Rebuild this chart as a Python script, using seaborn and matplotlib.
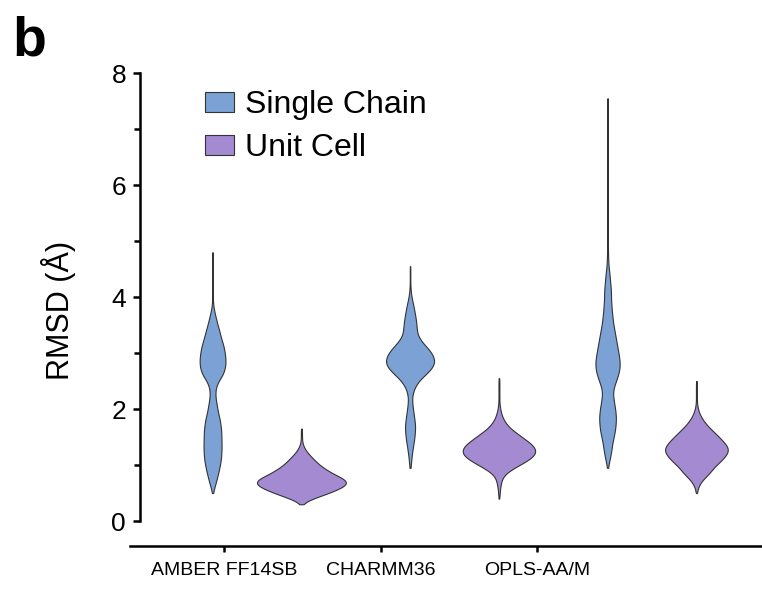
import numpy as np
import pandas as pd
import matplotlib.pyplot as plt
import seaborn as sns

# force fields and systems
force_fields = ["AMBER FF14SB", "CHARMM36", "OPLS-AA/M"]
systems = ["Single Chain", "Unit Cell"]

# RMSD histograms (frames per bin)
# single chain bins every 0.1 A, unit cell bins every 0.05 A
amber_single_start = 0.5
amber_single_counts = [2, 8, 15, 21, 27, 32, 36, 38, 39, 39,
                       38, 38, 35, 32, 26, 21, 17, 13, 12, 15,
                       26, 42, 52, 56, 56, 53, 49, 42, 35, 29,
                       22, 16, 10, 5, 2, 1, 1, 1, 1, 1,
                       1, 1, 1, 1]
amber_unit_start = 0.3
amber_unit_counts = [1, 4, 20, 34, 48, 60, 72, 80, 85, 76,
                     64, 54, 46, 38, 32, 26, 22, 17, 12, 8,
                     5, 3, 1, 1, 1, 1, 1, 1]
charmm_single_start = 0.95
charmm_single_counts = [2, 4, 6, 9, 12, 16, 18, 20, 19, 16,
                        13, 10, 8, 9, 15, 26, 44, 68, 88, 96,
                        90, 76, 56, 38, 28, 26, 24, 21, 17, 13,
                        8, 4, 2, 1, 1, 1, 1]
charmm_unit_start = 0.4
charmm_unit_counts = [1, 1, 2, 2, 3, 4, 5, 7, 9, 15,
                      24, 34, 46, 58, 68, 77, 83, 84, 82, 77,
                      70, 60, 52, 44, 34, 26, 20, 15, 11, 8,
                      6, 4, 3, 2, 1, 1, 1, 1, 1, 1,
                      1, 1, 1, 1]
opls_single_start = 0.95
opls_single_counts = [2, 6, 11, 15, 18, 22, 27, 31, 33, 34,
                      32, 29, 25, 22, 23, 30, 38, 45, 49, 49,
                      46, 42, 38, 34, 30, 26, 22, 20, 17, 16,
                      14, 14, 13, 11, 9, 7, 4, 3, 2, 2,
                      1, 1, 1, 1, 1, 1, 1, 1, 1, 1,
                      1, 1, 1, 1, 1, 1, 1, 1, 1, 1,
                      1, 1, 1, 1, 1, 1, 1]
opls_unit_start = 0.5
opls_unit_counts = [1, 2, 3, 6, 9, 14, 21, 27, 31, 35,
                    41, 48, 54, 59, 64, 67, 67, 63, 58, 53,
                    47, 41, 35, 29, 23, 18, 14, 10, 7, 5,
                    3, 2, 1, 1, 1, 1, 1, 1, 1, 1,
                    1]

SINGLE_STEP = 0.1
UNIT_STEP = 0.05
KDE_BW = 0.065  # same smoothing width (A) for every violin

colors = {"Single Chain": "#7BA1D5", "Unit Cell": "#A38AD1"}


def expand(ff, system, start, step, counts):
    rmsd = np.round(start + step * np.arange(len(counts)), 3)
    return pd.DataFrame({"force_field": ff, "system": system,
                         "rmsd": np.repeat(rmsd, counts)})


def fixed_bw(kde):
    # gaussian_kde multiplies the factor by the data std
    return KDE_BW / kde.dataset.std(ddof=1)


df = pd.concat([
    expand("AMBER FF14SB", "Single Chain", amber_single_start, SINGLE_STEP, amber_single_counts),
    expand("AMBER FF14SB", "Unit Cell", amber_unit_start, UNIT_STEP, amber_unit_counts),
    expand("CHARMM36", "Single Chain", charmm_single_start, SINGLE_STEP, charmm_single_counts),
    expand("CHARMM36", "Unit Cell", charmm_unit_start, UNIT_STEP, charmm_unit_counts),
    expand("OPLS-AA/M", "Single Chain", opls_single_start, SINGLE_STEP, opls_single_counts),
    expand("OPLS-AA/M", "Unit Cell", opls_unit_start, UNIT_STEP, opls_unit_counts),
], ignore_index=True)

sns.set_theme(style="ticks")
plt.rcParams["font.family"] = ["Liberation Sans", "DejaVu Sans"]
for key in ["text.color", "axes.labelcolor", "xtick.color", "ytick.color"]:
    plt.rcParams[key] = "black"

fig = plt.figure(figsize=(7.62, 5.90), dpi=100)
ax = fig.add_axes([0.1706, 0.1169, 0.8294, 0.7593])

sns.violinplot(data=df, x="force_field", y="rmsd", hue="system",
               order=force_fields, hue_order=systems, palette=colors,
               saturation=1, inner=None, cut=0, bw_method=fixed_bw,
               density_norm="area", common_norm=True, width=0.9,
               gridsize=400, linewidth=0.8, linecolor="#333333", ax=ax)

ax.set_ylim(0, 8)
ax.set_xlim(-0.643, 2.557)
ax.set_yticks([0, 2, 4, 6, 8])
ax.set_yticks([1, 3, 5, 7], minor=True)
# the category ticks of the original sit left of the violin pairs
ax.set_xticks([-0.167, 0.628, 1.418])
ax.set_xticklabels(force_fields)
ax.set_xlabel("")
ax.set_ylabel("RMSD (Å)", fontsize=22)
ax.yaxis.set_label_coords(-0.086, 0.47)

sns.despine(ax=ax)
ax.spines["left"].set_position(("axes", 0.0158))
ax.spines["bottom"].set_position(("outward", 18))
for side in ["left", "bottom"]:
    ax.spines[side].set_linewidth(1.8)
    ax.spines[side].set_color("black")
ax.tick_params(axis="y", which="major", length=5, width=1.8, labelsize=19, pad=5)
ax.tick_params(axis="y", which="minor", length=4, width=1.8)
ax.tick_params(axis="x", length=4.5, width=1.8, labelsize=14, pad=7)

sns.move_legend(ax, "upper left", bbox_to_anchor=(0.119, 0.962), title=None,
                frameon=False, fontsize=23, handlelength=0.9, handleheight=0.6,
                handletextpad=0.35, labelspacing=0.42, borderpad=0, borderaxespad=0)

fig.text(12 / 762, 1 - 16 / 590, "b", fontsize=40, fontweight="bold", va="top", ha="left")

fig.savefig("out.png", dpi=100)
